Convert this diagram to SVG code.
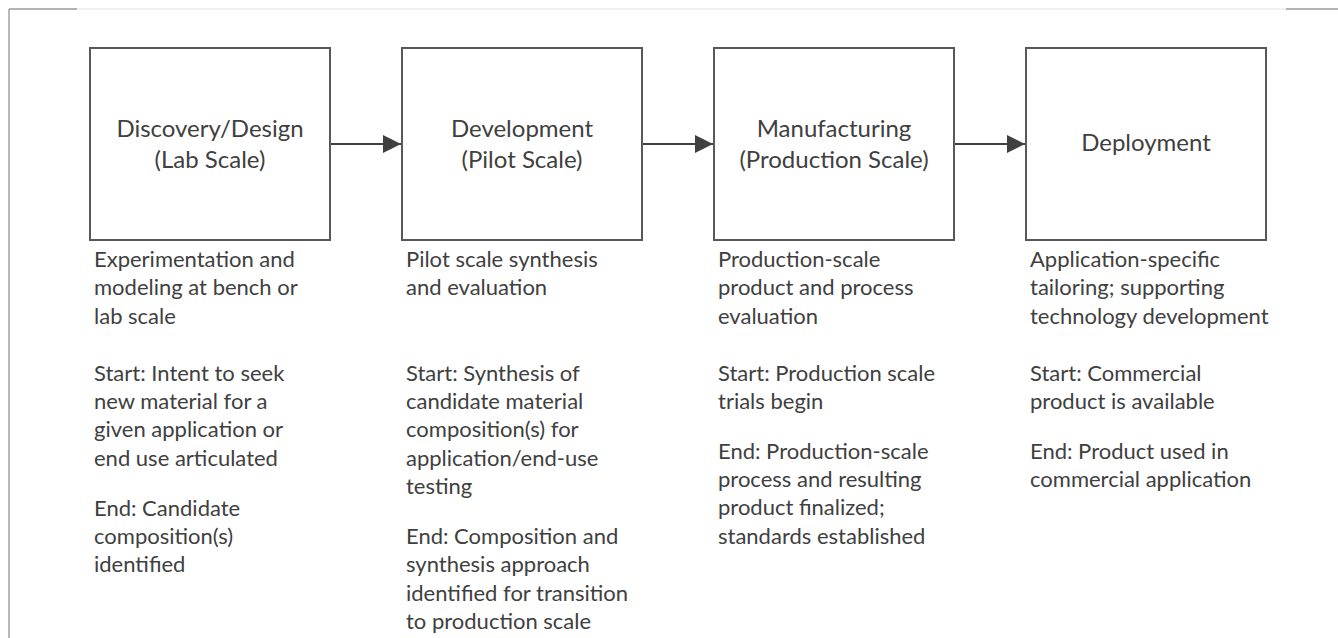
<svg xmlns="http://www.w3.org/2000/svg" width="1338" height="638" viewBox="0 0 1338 638">
<style>
.box{fill:#fff;stroke:#595959;stroke-width:2}
.lbl{font-family:Lato,"Open Sans","Liberation Sans",sans-serif;font-size:24px;fill:#404040;text-anchor:middle}
.txt{font-family:Lato,"Open Sans","Liberation Sans",sans-serif;font-size:22px;fill:#404040}
.conn{stroke:#404040;stroke-width:2;fill:none}
</style>
<defs>
<marker id="ah" viewBox="0 0 18 18" refX="18" refY="9" markerWidth="18" markerHeight="18" markerUnits="userSpaceOnUse" orient="auto">
<path d="M0,0 L18,9 L0,18 Z" fill="#404040"/>
</marker>
</defs>
<rect x="0" y="0" width="1338" height="638" fill="#fff"/>
<g id="frame">
<line x1="77" y1="9" x2="1286" y2="9" stroke="#ececec" stroke-width="1.5"/>
<line x1="9" y1="9" x2="77" y2="9" stroke="#9a9a9a" stroke-width="1.5"/>
<line x1="1286" y1="9" x2="1338" y2="9" stroke="#9a9a9a" stroke-width="1.5"/>
<line x1="9" y1="9" x2="9" y2="638" stroke="#a0a0a0" stroke-width="1.5"/>
</g>
<g id="connectors">
<line class="conn" x1="331" y1="144" x2="401" y2="144" marker-end="url(#ah)"/>
<line class="conn" x1="643" y1="144" x2="713" y2="144" marker-end="url(#ah)"/>
<line class="conn" x1="955" y1="144" x2="1025" y2="144" marker-end="url(#ah)"/>
</g>
<g id="discovery">
<rect class="box" x="90" y="48" width="240" height="192"/>
<text class="lbl" x="210" y="137">Discovery/Design</text>
<text class="lbl" x="210" y="168">(Lab Scale)</text>
<text class="txt" x="94">
<tspan x="94" y="267">Experimentation and</tspan>
<tspan x="94" y="295.4">modeling at bench or</tspan>
<tspan x="94" y="323.8">lab scale</tspan>
<tspan x="94" y="380.6">Start: Intent to seek</tspan>
<tspan x="94" y="409">new material for a</tspan>
<tspan x="94" y="437.4">given application or</tspan>
<tspan x="94" y="465.8">end use articulated</tspan>
<tspan x="94" y="515.5">End: Candidate</tspan>
<tspan x="94" y="543.9">composition(s)</tspan>
<tspan x="94" y="572.3">identified</tspan>
</text>
</g>
<g id="development">
<rect class="box" x="402" y="48" width="240" height="192"/>
<text class="lbl" x="522" y="137">Development</text>
<text class="lbl" x="522" y="168">(Pilot Scale)</text>
<text class="txt">
<tspan x="406" y="267">Pilot scale synthesis</tspan>
<tspan x="406" y="295.4">and evaluation</tspan>
<tspan x="406" y="380.6">Start: Synthesis of</tspan>
<tspan x="406" y="409">candidate material</tspan>
<tspan x="406" y="437.4">composition(s) for</tspan>
<tspan x="406" y="465.8">application/end-use</tspan>
<tspan x="406" y="494.2">testing</tspan>
<tspan x="406" y="543.7">End: Composition and</tspan>
<tspan x="406" y="572.1">synthesis approach</tspan>
<tspan x="406" y="600.5">identified for transition</tspan>
<tspan x="406" y="628.9">to production scale</tspan>
</text>
</g>
<g id="manufacturing">
<rect class="box" x="714" y="48" width="240" height="192"/>
<text class="lbl" x="834" y="137">Manufacturing</text>
<text class="lbl" x="834" y="168">(Production Scale)</text>
<text class="txt">
<tspan x="718" y="267">Production-scale</tspan>
<tspan x="718" y="295.4">product and process</tspan>
<tspan x="718" y="323.8">evaluation</tspan>
<tspan x="718" y="380.6">Start: Production scale</tspan>
<tspan x="718" y="409">trials begin</tspan>
<tspan x="718" y="458.5">End: Production-scale</tspan>
<tspan x="718" y="486.9">process and resulting</tspan>
<tspan x="718" y="515.3">product finalized;</tspan>
<tspan x="718" y="543.7">standards established</tspan>
</text>
</g>
<g id="deployment">
<rect class="box" x="1026" y="48" width="240" height="192"/>
<text class="lbl" x="1146" y="151">Deployment</text>
<text class="txt">
<tspan x="1030" y="267">Application-specific</tspan>
<tspan x="1030" y="295.4">tailoring; supporting</tspan>
<tspan x="1030" y="323.8">technology development</tspan>
<tspan x="1030" y="380.6">Start: Commercial</tspan>
<tspan x="1030" y="409">product is available</tspan>
<tspan x="1030" y="458.5">End: Product used in</tspan>
<tspan x="1030" y="486.9">commercial application</tspan>
</text>
</g>
</svg>
